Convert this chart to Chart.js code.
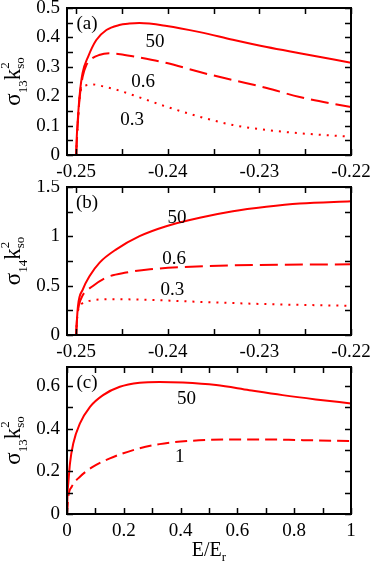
<!DOCTYPE html>
<html>
<head>
<meta charset="utf-8">
<script src="https://cdn.jsdelivr.net/npm/chart.js@4.4.1/dist/chart.umd.min.js"></script>
<style>
  html, body { margin: 0; padding: 0; background: #fff; font-family: "Liberation Serif", serif; }
  #wrap { position: relative; width: 374px; height: 566px; }
  canvas { position: absolute; left: 0; }
  .probe { position: absolute; left: -999px; top: 0; font-family: "Liberation Serif"; }
</style>
</head>
<body>
<span class="probe">0.5 σ</span>
<div id="wrap">
  <canvas id="chartA" width="374" height="180" style="top:0;width:374px;height:180px"></canvas>
  <canvas id="chartB" width="374" height="180" style="top:180px;width:374px;height:180px"></canvas>
  <canvas id="chartC" width="374" height="206" style="top:360px;width:374px;height:206px"></canvas>
</div>
<script>
// tick values
const xTicksAB = [-0.25, -0.24, -0.23, -0.22];
const yTicksA = [0, 0.1, 0.2, 0.3, 0.4, 0.5];
const yTicksB = [0, 0.5, 1, 1.5];
const xTicksC = [0, 0.2, 0.4, 0.6, 0.8, 1];
const yTicksC = [0, 0.2, 0.4, 0.6];

// panel (a): sigma13 k^2, labels 50 / 0.6 / 0.3
const a50 = [[-0.25, 0], [-0.24995, 0.05], [-0.2498, 0.13], [-0.2496, 0.21], [-0.2493, 0.279],
  [-0.2487, 0.334], [-0.2478, 0.391], [-0.2467, 0.425], [-0.2453, 0.442], [-0.2442, 0.447],
  [-0.2431, 0.449], [-0.2401, 0.439], [-0.2365, 0.418], [-0.2329, 0.392], [-0.2292, 0.367],
  [-0.2256, 0.346], [-0.22, 0.314]];
const a06 = [[-0.25, 0], [-0.2498, 0.12], [-0.2496, 0.2], [-0.2493, 0.265], [-0.2489, 0.305],
  [-0.2484, 0.325], [-0.2475, 0.34], [-0.2464, 0.346], [-0.2452, 0.343], [-0.2437, 0.335],
  [-0.2401, 0.313], [-0.2365, 0.282], [-0.2329, 0.255], [-0.2292, 0.228], [-0.2256, 0.197],
  [-0.22, 0.163]];
const a03 = [[-0.25, 0], [-0.2498, 0.12], [-0.2496, 0.2], [-0.2494, 0.228], [-0.2489, 0.237],
  [-0.2482, 0.24], [-0.247, 0.233], [-0.2456, 0.222], [-0.243, 0.195], [-0.2401, 0.164],
  [-0.2365, 0.13], [-0.2329, 0.102], [-0.2292, 0.085], [-0.2256, 0.074], [-0.22, 0.062]];

// panel (b): sigma14 k^2
const b50 = [[-0.25, 0], [-0.24995, 0.1], [-0.2498, 0.296], [-0.24926, 0.464], [-0.24853, 0.598],
  [-0.24744, 0.734], [-0.24562, 0.868], [-0.24308, 1.002], [-0.24017, 1.103], [-0.23652, 1.188],
  [-0.23289, 1.254], [-0.22925, 1.299], [-0.2256, 1.332], [-0.22, 1.355]];
const b06 = [[-0.25, 0], [-0.2499, 0.17], [-0.2497, 0.3], [-0.2493, 0.4], [-0.24817, 0.497],
  [-0.24672, 0.582], [-0.24454, 0.633], [-0.24193, 0.666], [-0.2383, 0.689], [-0.23289, 0.706],
  [-0.22744, 0.713], [-0.22, 0.716]];
const b03 = [[-0.25, 0], [-0.2499, 0.17], [-0.2497, 0.28], [-0.24944, 0.313], [-0.24853, 0.346],
  [-0.24635, 0.363], [-0.24199, 0.356], [-0.23652, 0.336], [-0.22925, 0.313], [-0.22, 0.296]];

// panel (c): sigma13 k^2 vs E/Er, labels 50 / 1
const c50 = [[0, 0], [0.002, 0.1], [0.0046, 0.144], [0.0105, 0.238], [0.022, 0.331], [0.0456, 0.425],
  [0.081, 0.503], [0.127, 0.558], [0.186, 0.597], [0.256, 0.616], [0.326, 0.62], [0.408, 0.617],
  [0.525, 0.605], [0.642, 0.581], [0.759, 0.558], [0.876, 0.538], [1, 0.519]];
const c1 = [[0, 0], [0.0046, 0.081], [0.0165, 0.128], [0.0456, 0.175], [0.092, 0.222], [0.151, 0.261],
  [0.233, 0.3], [0.326, 0.328], [0.443, 0.344], [0.584, 0.35], [0.7, 0.35], [0.818, 0.347], [1, 0.342]];

const SERIF = "'Liberation Serif', 'Times New Roman', 'DejaVu Serif', serif";
const RED = "#ff0000";

// draws a string with sub/superscript pieces, centred on the origin
function drawRich(ctx, parts) {
    const widths = parts.map((p) => {
        const items = p.stack || [p];
        return Math.max(...items.map((s) => {
            ctx.font = s.size + "px " + SERIF;
            return ctx.measureText(s.t).width;
        }));
    });
    const total = widths.reduce((a, b) => a + b, 0);
    let cx = -total / 2;
    parts.forEach((p, i) => {
        (p.stack || [p]).forEach((s) => {
            ctx.font = s.size + "px " + SERIF;
            ctx.fillText(s.t, cx, s.dy);
        });
        cx += widths[i];
    });
}

// frame with inward ticks on all four sides
const framePlugin = {
    id: "frame",
    afterDraw(chart, args, opts) {
        const { ctx, chartArea: a } = chart;
        const sx = chart.scales.x, sy = chart.scales.y;
        ctx.save();
        ctx.strokeStyle = "#000";
        ctx.lineWidth = 1.5;
        ctx.beginPath();
        for (let i = 0; ; i++) {
            const v = opts.xStart + i * opts.xStep;
            if (v > sx.max + 1e-9) break;
            const px = Math.round(sx.getPixelForValue(v)) + 0.5;
            ctx.moveTo(px, a.bottom); ctx.lineTo(px, a.bottom - 6);
            ctx.moveTo(px, a.top); ctx.lineTo(px, a.top + 6);
        }
        for (let i = 0; ; i++) {
            const v = opts.yStart + i * opts.yStep;
            if (v > sy.max + 1e-9) break;
            const py = Math.round(sy.getPixelForValue(v)) + 0.5;
            ctx.moveTo(a.left, py); ctx.lineTo(a.left + 6, py);
            ctx.moveTo(a.right, py); ctx.lineTo(a.right - 6, py);
        }
        ctx.stroke();
        ctx.lineWidth = 2;
        ctx.strokeRect(a.left, a.top, a.right - a.left, a.bottom - a.top);
        ctx.restore();
    },
};

// curve labels, panel letter and axis titles
const notesPlugin = {
    id: "notes",
    afterDraw(chart, args, opts) {
        const { ctx, chartArea: a } = chart;
        const sx = chart.scales.x, sy = chart.scales.y;
        ctx.save();
        ctx.fillStyle = "#000";
        ctx.textAlign = "center";
        ctx.textBaseline = "middle";
        ctx.font = "19px " + SERIF;
        opts.labels.forEach((l) => {
            ctx.fillText(l.text, sx.getPixelForValue(l.x), sy.getPixelForValue(l.y));
        });
        ctx.fillText(opts.panel, a.left + 20, a.top + 16);

        ctx.textAlign = "left";
        ctx.textBaseline = "alphabetic";
        ctx.save();
        ctx.translate(20, (a.top + a.bottom) / 2);
        ctx.rotate(-Math.PI / 2);
        drawRich(ctx, [
            { t: "σ", size: 23, dy: 0 },
            { t: opts.sub, size: 13, dy: 7 },
            { t: "k", size: 23, dy: 0 },
            { stack: [{ t: "2", size: 13, dy: -11 }, { t: "so", size: 13, dy: 4 }] },
        ]);
        ctx.restore();

        if (opts.xTitle) {
            ctx.save();
            ctx.translate((a.left + a.right) / 2, a.bottom + 42);
            drawRich(ctx, [
                { t: "E/E", size: 20, dy: 0 },
                { t: "r", size: 13, dy: 5 },
            ]);
            ctx.restore();
        }
        ctx.restore();
    },
};

function line(data, dash) {
    return {
        data: data,
        borderColor: RED,
        borderWidth: 2,
        borderDash: dash,
        pointRadius: 0,
        fill: false,
        cubicInterpolationMode: "monotone",
    };
}

function makeChart(id, datasets, cfg) {
    return new Chart(document.getElementById(id), {
        type: "line",
        data: { datasets: datasets },
        options: {
            responsive: false,
            animation: false,
            events: [],
            layout: { padding: { top: cfg.padTop, right: 23, left: 0, bottom: 0 } },
            plugins: {
                legend: { display: false },
                tooltip: { enabled: false },
                frame: cfg.frame,
                notes: cfg.notes,
            },
            scales: {
                x: {
                    type: "linear",
                    min: cfg.xMin,
                    max: cfg.xMax,
                    grid: { display: false, drawTicks: false },
                    border: { display: false },
                    afterBuildTicks: (s) => { s.ticks = cfg.xTicks.map((v) => ({ value: v })); },
                    afterFit: (s) => { s.height = cfg.xHeight; s.paddingLeft = 0; s.paddingRight = 0; },
                    ticks: {
                        padding: 6,
                        maxRotation: 0,
                        autoSkip: false,
                        color: "#000",
                        font: { family: SERIF, size: 19 },
                        callback: (v) => String(+Number(v).toFixed(3)),
                    },
                },
                y: {
                    type: "linear",
                    min: cfg.yMin,
                    max: cfg.yMax,
                    grid: { display: false, drawTicks: false },
                    border: { display: false },
                    afterBuildTicks: (s) => { s.ticks = cfg.yTicks.map((v) => ({ value: v })); },
                    afterFit: (s) => { s.width = 67; s.paddingTop = 0; s.paddingBottom = 0; },
                    ticks: {
                        padding: 7,
                        autoSkip: false,
                        color: "#000",
                        font: { family: SERIF, size: 19 },
                        callback: (v) => String(+Number(v).toFixed(2)),
                    },
                },
            },
        },
        plugins: [framePlugin, notesPlugin],
    });
}

function drawAll() {
    makeChart("chartA", [line(a50, []), line(a06, [18, 7]), line(a03, [2, 6])], {
        padTop: 8, xHeight: 25,
        xMin: -0.251, xMax: -0.22, xTicks: xTicksAB,
        yMin: 0, yMax: 0.5, yTicks: yTicksA,
        frame: { xStart: -0.25, xStep: 0.005, yStart: 0, yStep: 0.05 },
        notes: {
            panel: "(a)", sub: "13",
            labels: [{ text: "50", x: -0.2414, y: 0.384 }, { text: "0.6", x: -0.2427, y: 0.248 },
                { text: "0.3", x: -0.2439, y: 0.119 }],
        },
    });

    makeChart("chartB", [line(b50, []), line(b06, [18, 7]), line(b03, [2, 6])], {
        padTop: 7, xHeight: 25,
        xMin: -0.251, xMax: -0.22, xTicks: xTicksAB,
        yMin: 0, yMax: 1.5, yTicks: yTicksB,
        frame: { xStart: -0.25, xStep: 0.005, yStart: 0, yStep: 0.25 },
        notes: {
            panel: "(b)", sub: "14",
            labels: [{ text: "50", x: -0.2390, y: 1.19 }, { text: "0.6", x: -0.2393, y: 0.77 },
                { text: "0.3", x: -0.2395, y: 0.46 }],
        },
    });

    makeChart("chartC", [line(c50, []), line(c1, [12, 6])], {
        padTop: 7, xHeight: 52,
        xMin: 0, xMax: 1, xTicks: xTicksC,
        yMin: 0, yMax: 0.69, yTicks: yTicksC,
        frame: { xStart: 0, xStep: 0.1, yStart: 0, yStep: 0.1 },
        notes: {
            panel: "(c)", sub: "13", xTitle: true,
            labels: [{ text: "50", x: 0.421, y: 0.54 }, { text: "1", x: 0.397, y: 0.267 }],
        },
    });
}

// make sure the serif face is ready before the canvases are painted
document.fonts.load("19px 'Liberation Serif'", "0.5σ").then(drawAll, drawAll);
</script>
</body>
</html>
